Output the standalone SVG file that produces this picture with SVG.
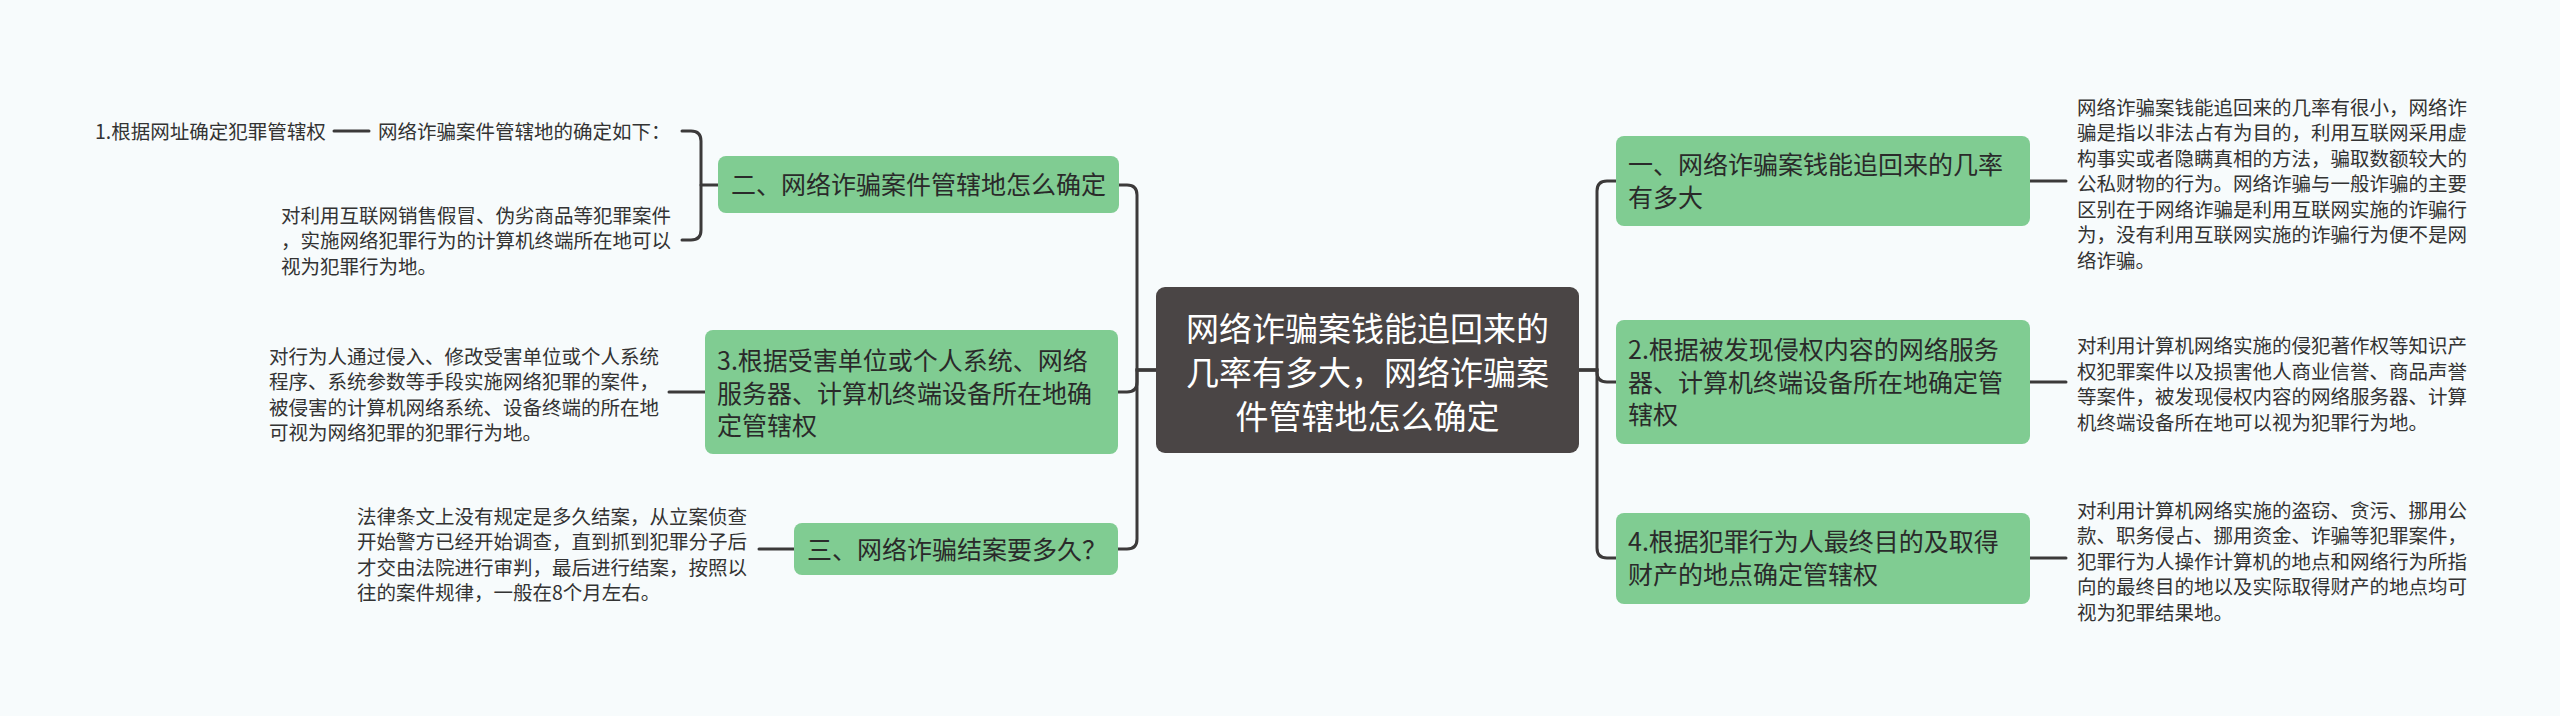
<svg xmlns="http://www.w3.org/2000/svg" width="2560" height="716" viewBox="0 0 2560 716">
<style>
.t{font-family:"Noto Sans CJK SC","Noto Sans",sans-serif;}
.desc{font-size:19.5px;fill:#333333;}
.gn{fill:#80cc92;}
.gt{font-size:25px;fill:#2a2a2a;}
.rt{font-size:33px;fill:#ffffff;}
.c{fill:none;stroke:#3c3a3a;stroke-width:3;stroke-linecap:round;}
</style>
<rect width="2560" height="716" fill="#f7fbfc"/>
<g id="connectors" class="c">
<path d="M1156,370 H1137 V195 Q1137,185 1127,185 H1119"/>
<path d="M1156,370 H1137 V382 Q1137,392 1127,392 H1118"/>
<path d="M1156,370 H1137 V539 Q1137,549 1127,549 H1118"/>
<path d="M1579,370 H1597 V191 Q1597,181 1607,181 H1616"/>
<path d="M1579,370 H1597 V372 Q1597,382 1607,382 H1616"/>
<path d="M1579,370 H1597 V548 Q1597,558 1607,558 H1616"/>
<path d="M2030,181 H2066"/>
<path d="M2030,382 H2066"/>
<path d="M2030,558 H2066"/>
<path d="M705,392 H669"/>
<path d="M794,549 H759"/>
<path d="M718,185 H701"/>
<path d="M682,131 H691 Q701,131 701,141 V230 Q701,240 691,240 H682"/>
<path d="M334,131 H369"/>
</g>
<g id="root">
<rect x="1156" y="287" width="423" height="166" rx="9" fill="#4a4545"/>
<text class="t rt" text-anchor="middle" x="1367.5"><tspan x="1367.5" y="341">网络诈骗案钱能追回来的</tspan><tspan x="1367.5" y="385">几率有多大，网络诈骗案</tspan><tspan x="1367.5" y="429">件管辖地怎么确定</tspan></text>
</g>
<g id="n1">
<rect class="gn" x="1616" y="136" width="414" height="90" rx="8"/>
<text class="t gt"><tspan x="1628" y="174">一、网络诈骗案钱能追回来的几率</tspan><tspan x="1628" y="207">有多大</tspan></text>
</g>
<g id="n1d">
<text class="t desc"><tspan x="2077" y="114.5">网络诈骗案钱能追回来的几率有很小，网络诈</tspan><tspan x="2077" y="140">骗是指以非法占有为目的，利用互联网采用虚</tspan><tspan x="2077" y="165.5">构事实或者隐瞒真相的方法，骗取数额较大的</tspan><tspan x="2077" y="191">公私财物的行为。网络诈骗与一般诈骗的主要</tspan><tspan x="2077" y="216.5">区别在于网络诈骗是利用互联网实施的诈骗行</tspan><tspan x="2077" y="242">为，没有利用互联网实施的诈骗行为便不是网</tspan><tspan x="2077" y="267.5">络诈骗。</tspan></text>
</g>
<g id="n2">
<rect class="gn" x="1616" y="320" width="414" height="124" rx="8"/>
<text class="t gt"><tspan x="1628" y="359">2.根据被发现侵权内容的网络服务</tspan><tspan x="1628" y="391.5">器、计算机终端设备所在地确定管</tspan><tspan x="1628" y="424">辖权</tspan></text>
</g>
<g id="n2d">
<text class="t desc"><tspan x="2077" y="353">对利用计算机网络实施的侵犯著作权等知识产</tspan><tspan x="2077" y="378.5">权犯罪案件以及损害他人商业信誉、商品声誉</tspan><tspan x="2077" y="404">等案件，被发现侵权内容的网络服务器、计算</tspan><tspan x="2077" y="429.5">机终端设备所在地可以视为犯罪行为地。</tspan></text>
</g>
<g id="n4">
<rect class="gn" x="1616" y="513" width="414" height="91" rx="8"/>
<text class="t gt"><tspan x="1628" y="551">4.根据犯罪行为人最终目的及取得</tspan><tspan x="1628" y="584">财产的地点确定管辖权</tspan></text>
</g>
<g id="n4d">
<text class="t desc"><tspan x="2077" y="517.5">对利用计算机网络实施的盗窃、贪污、挪用公</tspan><tspan x="2077" y="543">款、职务侵占、挪用资金、诈骗等犯罪案件，</tspan><tspan x="2077" y="568.5">犯罪行为人操作计算机的地点和网络行为所指</tspan><tspan x="2077" y="594">向的最终目的地以及实际取得财产的地点均可</tspan><tspan x="2077" y="619.5">视为犯罪结果地。</tspan></text>
</g>
<g id="l2">
<rect class="gn" x="718" y="156" width="401" height="57" rx="8"/>
<text class="t gt" x="731" y="194">二、网络诈骗案件管辖地怎么确定</text>
</g>
<g id="l2a">
<text class="t desc" x="378" y="138.5">网络诈骗案件管辖地的确定如下：</text>
</g>
<g id="l2a1">
<text class="t desc" x="95" y="138.5">1.根据网址确定犯罪管辖权</text>
</g>
<g id="l2b">
<text class="t desc"><tspan x="281" y="222.5">对利用互联网销售假冒、伪劣商品等犯罪案件</tspan><tspan x="281" y="248">，实施网络犯罪行为的计算机终端所在地可以</tspan><tspan x="281" y="273.5">视为犯罪行为地。</tspan></text>
</g>
<g id="l3">
<rect class="gn" x="705" y="330" width="413" height="124" rx="8"/>
<text class="t gt"><tspan x="717" y="370">3.根据受害单位或个人系统、网络</tspan><tspan x="717" y="402.5">服务器、计算机终端设备所在地确</tspan><tspan x="717" y="435">定管辖权</tspan></text>
</g>
<g id="l3d">
<text class="t desc"><tspan x="269" y="363.5">对行为人通过侵入、修改受害单位或个人系统</tspan><tspan x="269" y="389">程序、系统参数等手段实施网络犯罪的案件，</tspan><tspan x="269" y="414.5">被侵害的计算机网络系统、设备终端的所在地</tspan><tspan x="269" y="440">可视为网络犯罪的犯罪行为地。</tspan></text>
</g>
<g id="l4">
<rect class="gn" x="794" y="523" width="324" height="52" rx="8"/>
<text class="t gt" x="807" y="558.5">三、网络诈骗结案要多久？</text>
</g>
<g id="l4d">
<text class="t desc"><tspan x="357" y="523.5">法律条文上没有规定是多久结案，从立案侦查</tspan><tspan x="357" y="549">开始警方已经开始调查，直到抓到犯罪分子后</tspan><tspan x="357" y="574.5">才交由法院进行审判，最后进行结案，按照以</tspan><tspan x="357" y="600">往的案件规律，一般在8个月左右。</tspan></text>
</g>
</svg>
